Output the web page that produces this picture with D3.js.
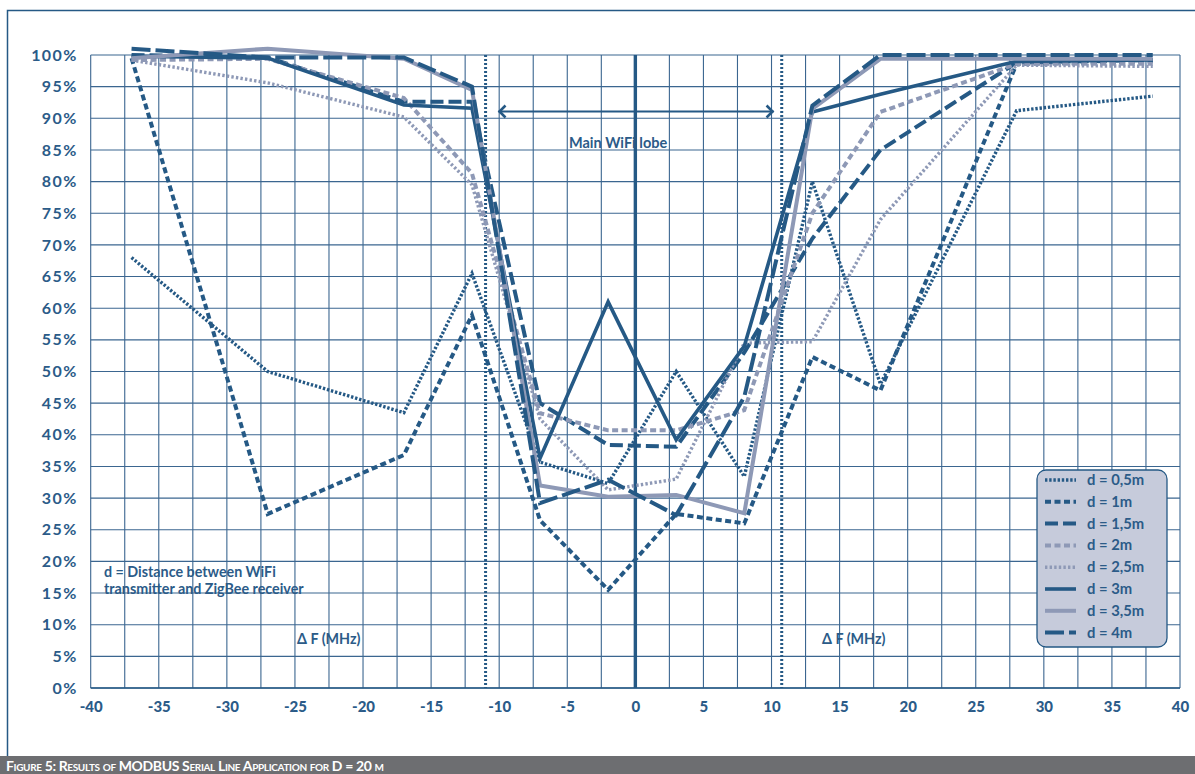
<!DOCTYPE html>
<html>
<head>
<meta charset="utf-8">
<script src="https://d3js.org/d3.v7.min.js"></script>
<style>
  html, body { margin: 0; padding: 0; background: #ffffff; }
  svg { display: block; }
  text { font-family: "Lato", "Open Sans", sans-serif; }
</style>
</head>
<body>
<svg id="chart" width="1195" height="774"></svg>
<script>
// Frequency offsets (MHz) at which packets were counted
const freqOffsets = [-37, -27, -17, -12, -7, -2, 3, 8, 13, 18, 28, 38];

// Success rate (%) per WiFi–ZigBee distance d
const d05 = [68, 50, 43.5, 65.5, 35.7, 32.3, 50, 33.4, 80, 48, 91.2, 93.5];
const d1  = [99.5, 27.5, 36.8, 58.9, 26.5, 15.5, 27.5, 26, 52.3, 47, 98.6, 99];
const d15 = [100, 99.6, 92.6, 92.6, 45, 38.4, 38.1, 53, 71, 85, 98.8, 99.2];
const d2  = [99.2, 99.4, 93.2, 81.3, 43.4, 40.7, 40.7, 43.9, 75, 91, 98.6, 98.6];
const d25 = [99.2, 95.6, 90.2, 79.5, 42.5, 31.3, 33, 54.5, 54.7, 74, 98.4, 98.2];
const d3v = [99.8, 99.5, 92.1, 91.6, 36.3, 61, 39.2, 54, 91, 93.8, 99, 99.2];
const d35 = [99.5, 101, 99.4, 94.5, 32, 30.2, 30.5, 27.6, 91.5, 99.4, 99.4, 99.4];
const d4  = [101, 99.6, 99.6, 95, 29.2, 32.9, 27.3, 46, 92, 100, 100, 100];

const seriesNames = ["d = 0,5m", "d = 1m", "d = 1,5m", "d = 2m", "d = 2,5m", "d = 3m", "d = 3,5m", "d = 4m"];
const seriesValues = [d05, d1, d15, d2, d25, d3v, d35, d4];

// Axis ticks
const xTicks = [-40, -35, -30, -25, -20, -15, -10, -5, 0, 5, 10, 15, 20, 25, 30, 35, 40];
const yTicks = [0, 5, 10, 15, 20, 25, 30, 35, 40, 45, 50, 55, 60, 65, 70, 75, 80, 85, 90, 95, 100];
const xGrid = [];
for (let v = -40; v <= 40; v += 2.5) xGrid.push(v);

// Main WiFi lobe boundaries (MHz)
const lobeEdges = [-11, 10.75];

const DARK = "#255985";
const GREY = "#8e99b6";
const TEXT = "#2b5b88";

const styles = [
  { color: DARK, width: 3.4, dash: "2.4,1.8" },
  { color: DARK, width: 4,   dash: "6,3.5" },
  { color: DARK, width: 4,   dash: "13,5" },
  { color: GREY, width: 4,   dash: "6,3.5" },
  { color: GREY, width: 3.4, dash: "2.4,2.2" },
  { color: DARK, width: 3.6, dash: null },
  { color: GREY, width: 4,   dash: null },
  { color: DARK, width: 4,   dash: "19,5" }
];

const svg = d3.select("#chart");

const plot = { left: 90.7, right: 1180, top: 55, bottom: 688 };
const x = d3.scaleLinear().domain([-40, 40]).range([plot.left, plot.right]);
const y = d3.scaleLinear().domain([0, 100]).range([plot.bottom, plot.top]);

// Outer frame
svg.append("path")
  .attr("d", "M1195,10.5 L7.5,10.5 L7.5,756")
  .attr("fill", "none").attr("stroke", DARK).attr("stroke-width", 1.5);

// Caption bar
svg.append("rect").attr("x", 0).attr("y", 756).attr("width", 1195).attr("height", 18).attr("fill", "#6d6e71");
svg.append("text")
  .attr("x", 6).attr("y", 771)
  .attr("fill", "#ffffff")
  .attr("font-size", 14).attr("font-weight", 700)
  .attr("textLength", 378).attr("lengthAdjust", "spacing")
  .style("font-variant", "small-caps")
  .text("Figure 5: Results of MODBUS Serial Line Application for D = 20 m");

// Grid
const grid = svg.append("g");
grid.selectAll("line.v")
  .data(xGrid)
  .join("line")
  .attr("x1", d => x(d)).attr("x2", d => x(d))
  .attr("y1", plot.top).attr("y2", plot.bottom)
  .attr("stroke", "#3b6690").attr("stroke-width", 1.1);
grid.selectAll("line.h")
  .data(yTicks)
  .join("line")
  .attr("x1", plot.left).attr("x2", plot.right)
  .attr("y1", d => y(d)).attr("y2", d => y(d))
  .attr("stroke", "#3b6690").attr("stroke-width", 1.1);
svg.append("line")
  .attr("x1", plot.left).attr("x2", plot.right)
  .attr("y1", plot.bottom).attr("y2", plot.bottom)
  .attr("stroke", DARK).attr("stroke-width", 1.6);

// Axes (labels only)
const xAxis = svg.append("g")
  .attr("transform", `translate(0,${plot.bottom})`)
  .call(d3.axisBottom(x).tickValues(xTicks).tickSize(0).tickPadding(13).tickFormat(d => String(d)));
xAxis.select(".domain").remove();
xAxis.selectAll("text")
  .attr("fill", TEXT).attr("font-size", 15).attr("font-weight", 900)
  .style("font-family", "Lato, sans-serif");

const yAxis = svg.append("g")
  .attr("transform", `translate(${plot.left},0)`)
  .call(d3.axisLeft(y).tickValues(yTicks).tickSize(0).tickPadding(13).tickFormat(d => d + "%"));
yAxis.select(".domain").remove();
yAxis.selectAll("text")
  .attr("fill", TEXT).attr("font-size", 16).attr("font-weight", 700)
  .attr("letter-spacing", 1.4)
  .style("font-family", "Lato, sans-serif");

// Centre frequency and lobe edges
svg.append("line")
  .attr("x1", x(0)).attr("x2", x(0)).attr("y1", plot.top).attr("y2", plot.bottom)
  .attr("stroke", DARK).attr("stroke-width", 3.4);
svg.selectAll("line.edge")
  .data(lobeEdges)
  .join("line")
  .attr("x1", d => x(d)).attr("x2", d => x(d))
  .attr("y1", plot.top).attr("y2", plot.bottom)
  .attr("stroke", DARK).attr("stroke-width", 3).attr("stroke-dasharray", "2,2");

// Lobe arrow
const arrowY = 111.5;
const ax0 = x(-10.05), ax1 = x(10.15);
svg.append("line")
  .attr("x1", ax0).attr("x2", ax1).attr("y1", arrowY).attr("y2", arrowY)
  .attr("stroke", DARK).attr("stroke-width", 2);
svg.append("path")
  .attr("d", `M${ax0 + 7},${arrowY - 6} L${ax0 + 1},${arrowY} L${ax0 + 7},${arrowY + 6}`)
  .attr("fill", "none").attr("stroke", DARK).attr("stroke-width", 2.6);
svg.append("path")
  .attr("d", `M${ax1 - 7},${arrowY - 6} L${ax1 - 1},${arrowY} L${ax1 - 7},${arrowY + 6}`)
  .attr("fill", "none").attr("stroke", DARK).attr("stroke-width", 2.6);
svg.append("text")
  .attr("x", 569).attr("y", 147.5)
  .attr("fill", TEXT).attr("font-size", 14.5).attr("font-weight", 700)
  .text("Main WiFi lobe");

// Series
const line = d3.line()
  .x((d, i) => x(freqOffsets[i]))
  .y(d => y(d));

svg.append("g").selectAll("path")
  .data(seriesValues)
  .join("path")
  .attr("d", d => line(d))
  .attr("fill", "none")
  .attr("stroke", (d, i) => styles[i].color)
  .attr("stroke-width", (d, i) => styles[i].width)
  .attr("stroke-dasharray", (d, i) => styles[i].dash)
  .attr("stroke-linejoin", "miter")
  .attr("stroke-miterlimit", 6);

// Notes
const note = svg.append("text")
  .attr("fill", TEXT).attr("font-size", 14.3).attr("font-weight", 700);
note.append("tspan").attr("x", 104).attr("y", 577).text("d = Distance between WiFi");
note.append("tspan").attr("x", 104).attr("y", 593.5).text("transmitter and ZigBee receiver");

svg.selectAll("text.df")
  .data([297, 822])
  .join("text")
  .attr("x", d => d).attr("y", 644)
  .attr("fill", TEXT).attr("font-size", 14.3).attr("font-weight", 700)
  .text("Δ F (MHz)");

// Legend
const legend = svg.append("g");
legend.append("rect")
  .attr("x", 1037).attr("y", 470).attr("width", 130).attr("height", 177)
  .attr("rx", 9).attr("ry", 9)
  .attr("fill", "#c6cbdb").attr("stroke", DARK).attr("stroke-width", 1.3);

const rows = legend.selectAll("g.row")
  .data(seriesNames)
  .join("g")
  .attr("transform", (d, i) => `translate(0,${480 + i * 21.8})`);
rows.append("line")
  .attr("x1", 1045).attr("x2", 1076).attr("y1", 0).attr("y2", 0)
  .attr("stroke", (d, i) => styles[i].color)
  .attr("stroke-width", (d, i) => styles[i].width)
  .attr("stroke-dasharray", (d, i) => styles[i].dash);
rows.append("text")
  .attr("x", 1087).attr("y", 5)
  .attr("fill", TEXT).attr("font-size", 14.8).attr("font-weight", 700)
  .text(d => d);
</script>
</body>
</html>
